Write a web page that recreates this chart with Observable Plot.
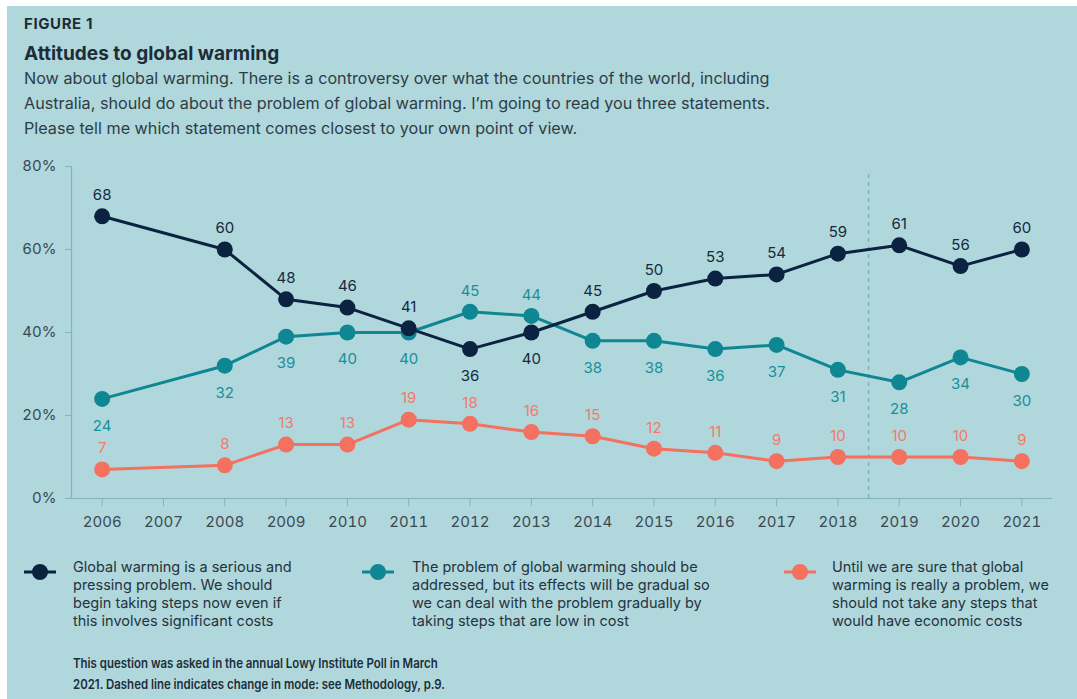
<!DOCTYPE html>
<html>
<head>
<meta charset="utf-8">
<script src="https://cdn.jsdelivr.net/npm/d3@7"></script>
<script src="https://cdn.jsdelivr.net/npm/@observablehq/plot@0.6"></script>
<style>
  html, body { margin: 0; padding: 0; background: #ffffff; }
  body { font-family: Inter, "Noto Sans", sans-serif; color: #24333d; width: 1077px; height: 699px; position: relative; overflow: hidden; }
  #frame { position: absolute; left: 7px; top: 6px; width: 1070px; height: 693px; background: #b0d7dc; }
  .abs { position: absolute; white-space: nowrap; }
  #fig { left: 24px; top: 14px; font-size: 15px; line-height: 20px; font-weight: 700; letter-spacing: 0.6px; color: #1d2d38; }
  #title { left: 24px; top: 42px; font-size: 19px; line-height: 24px; font-weight: 700; color: #1d2d38; }
  #subtitle { left: 24px; top: 66px; font-size: 16.2px; line-height: 25px; color: #2e3d46; }
  #chart { position: absolute; left: 0; top: 150px; }
  .leg { position: absolute; top: 558px; }
  .leg svg { position: absolute; top: 4px; }
  .leg .t { position: absolute; top: 0; font-size: 14.5px; line-height: 18px; color: #24333d; white-space: nowrap; }
  #foot { left: 73px; top: 653px; font-family: Inter, "Noto Sans", sans-serif; font-weight: 600; font-size: 13px; line-height: 20.5px; color: #1d2d38; transform-origin: 0 0; }
</style>
</head>
<body>
<div id="frame"></div>
<div class="abs" id="fig"></div>
<div class="abs" id="title"></div>
<div class="abs" id="subtitle"></div>
<div id="chart"></div>
<div id="legend"></div>
<div class="abs" id="foot"></div>
<script>
// ---- data ----
const years = [2006, 2008, 2009, 2010, 2011, 2012, 2013, 2014, 2015, 2016, 2017, 2018, 2019, 2020, 2021];
const serious = [68, 60, 48, 46, 41, 36, 40, 45, 50, 53, 54, 59, 61, 56, 60];
const gradual = [24, 32, 39, 40, 40, 45, 44, 38, 38, 36, 37, 31, 28, 34, 30];
const noSteps = [7, 8, 13, 13, 19, 18, 16, 15, 12, 11, 9, 10, 10, 10, 9];
const xTicks = [2006, 2007, 2008, 2009, 2010, 2011, 2012, 2013, 2014, 2015, 2016, 2017, 2018, 2019, 2020, 2021];
const yTicks = [0, 20, 40, 60, 80];
const modeChange = 2018.5;
const seriesNames = [
  "Global warming is a serious and pressing problem. We should begin taking steps now even if this involves significant costs",
  "The problem of global warming should be addressed, but its effects will be gradual so we can deal with the problem gradually by taking steps that are low in cost",
  "Until we are sure that global warming is really a problem, we should not take any steps that would have economic costs"
];
const legendLines = [
  ["Global warming is a serious and", "pressing problem. We should", "begin taking steps now even if", "this involves significant costs"],
  ["The problem of global warming should be", "addressed, but its effects will be gradual so", "we can deal with the problem gradually by", "taking steps that are low in cost"],
  ["Until we are sure that global", "warming is really a problem, we", "should not take any steps that", "would have economic costs"]
];
const figureLabel = "FIGURE 1";
const titleText = "Attitudes to global warming";
const subtitleLines = [
  "Now about global warming. There is a controversy over what the countries of the world, including",
  "Australia, should do about the problem of global warming. I’m going to read you three statements.",
  "Please tell me which statement comes closest to your own point of view."
];
const footLines = [
  "This question was asked in the annual Lowy Institute Poll in March",
  "2021. Dashed line indicates change in mode: see Methodology, p.9."
];

// ---- styles ----
const lineColors = ["#0b2341", "#0e8793", "#f4705f"];
const labelColors = ["#16293f", "#17909b", "#f47a69"];
const axisColor = "#82b3b8";
const tickText = "#3a4951";

// ---- text ----
document.getElementById("fig").textContent = figureLabel;
document.getElementById("title").textContent = titleText;
document.getElementById("subtitle").innerHTML = subtitleLines.join("<br>");
const foot = document.getElementById("foot");
foot.innerHTML = footLines.join("<br>");
const footW = foot.getBoundingClientRect().width;
foot.style.transform = `scaleX(${Math.min(1, 372 / footW)})`;

// ---- rows ----
const valueSets = [serious, gradual, noSteps];
const rows = [];
valueSets.forEach((vals, s) => {
  vals.forEach((v, i) => {
    rows.push({series: s, year: years[i], value: v, other: s === 0 ? gradual[i] : s === 1 ? serious[i] : null});
  });
});

const marks = [
  Plot.ruleX([modeChange], {y1: 0, y2: 79, stroke: axisColor, strokeWidth: 1.5, strokeDasharray: "4,4"}),
  Plot.ruleY([0], {stroke: axisColor, strokeWidth: 1.2}),
  Plot.ruleX([2005.5], {y1: 0, y2: 80, stroke: axisColor, strokeWidth: 1.2}),
  Plot.axisY({ticks: yTicks, tickSize: 6, tickPadding: 9, tickFormat: d => d + "%", label: null, stroke: axisColor, fill: tickText, fontSize: 15}),
  Plot.axisX({ticks: xTicks, tickSize: 8, tickPadding: 10, tickFormat: d => String(d), label: null, stroke: axisColor, fill: tickText, fontSize: 15})
];

// draw order: coral, teal, navy (navy on top)
[2, 1, 0].forEach(s => {
  const data = rows.filter(r => r.series === s);
  marks.push(Plot.line(data, {x: "year", y: "value", stroke: lineColors[s], strokeWidth: 3}));
  marks.push(Plot.dot(data, {x: "year", y: "value", fill: lineColors[s], r: 8}));
});

[0, 1, 2].forEach(s => {
  const data = rows.filter(r => r.series === s);
  let above, below;
  if (s === 0) { above = data.filter(r => r.value >= r.other); below = data.filter(r => r.value < r.other); }
  else if (s === 1) { above = data.filter(r => r.value > r.other); below = data.filter(r => r.value <= r.other); }
  else { above = data; below = []; }
  marks.push(Plot.text(above, {x: "year", y: "value", text: d => String(d.value), dy: -21, fill: labelColors[s], fontSize: 15}));
  marks.push(Plot.text(below, {x: "year", y: "value", text: d => String(d.value), dy: 27, fill: labelColors[s], fontSize: 15}));
});

const chart = Plot.plot({
  width: 1077,
  height: 390,
  marginLeft: 71,
  marginRight: 25,
  marginTop: 16,
  marginBottom: 42,
  x: {domain: [2005.5, 2021.5]},
  y: {domain: [0, 80]},
  style: {background: "transparent", fontFamily: "Inter, 'Noto Sans', sans-serif", fontSize: "15px", overflow: "visible"},
  marks
});
document.getElementById("chart").appendChild(chart);

// ---- legend ----
const legPos = [{mx: 24, tx: 73}, {mx: 362, tx: 412}, {mx: 784, tx: 832}];
const legend = document.getElementById("legend");
legendLines.forEach((lines, s) => {
  const d = document.createElement("div");
  d.className = "leg";
  d.style.left = legPos[s].mx + "px";
  d.innerHTML = `<svg width="34" height="20" style="left:0"><line x1="0" x2="32" y1="10" y2="10" stroke="${lineColors[s]}" stroke-width="3"/><circle cx="16" cy="10" r="8" fill="${lineColors[s]}"/></svg>` +
    `<div class="t" style="left:${legPos[s].tx - legPos[s].mx}px">${lines.join("<br>")}</div>`;
  d.title = seriesNames[s];
  legend.appendChild(d);
});
</script>
</body>
</html>
